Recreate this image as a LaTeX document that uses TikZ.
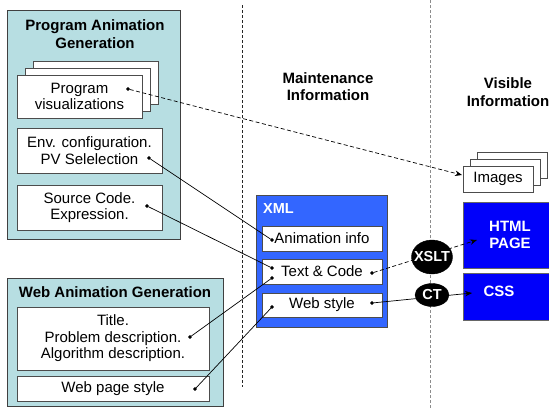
\documentclass[tikz,border=0pt]{standalone}
\usepackage{fontspec}
\setmainfont{Liberation Sans}
\usepackage{tikz}
\usetikzlibrary{shapes.geometric,arrows.meta}
\definecolor{panelteal}{RGB}{183,222,226}
\definecolor{xmlblue}{RGB}{51,102,255}
\definecolor{pageblue}{RGB}{0,0,250}

\begin{document}
\begin{tikzpicture}
[x=1pt,y=-1pt,>={Stealth[length=7pt,width=5.5pt]},
point/.style = {draw, circle, fill = black, inner sep = 1.1pt},
panel/.style = {draw=black!75, fill=panelteal, line width=0.8pt, inner sep=0pt},
card/.style = {draw=black!70, fill=white, line width=0.6pt, inner sep=0pt, align=center, font=\fontsize{15}{16.5}\selectfont},
head/.style = {align=center, inner sep=0pt, font=\bfseries\fontsize{15}{18}\selectfont},
bluebox/.style = {draw=black!60, fill=pageblue, inner sep=0pt, align=center, text=white, font=\bfseries\fontsize{15}{17}\selectfont},
oval/.style = {ellipse, draw=black, fill=black, inner sep=0pt, text=white, font=\bfseries\fontsize{14.5}{15}\selectfont},
link/.style = {line width=0.7pt},
dashlink/.style = {line width=0.7pt, dash pattern=on 4pt off 2.5pt},
]
\useasboundingbox (0,0) rectangle (549,408);

% program animation generation
\node (pag) at (93.5,124.5)[panel, minimum width=173pt, minimum height=229pt] {};
\node (pagtitle) at (95,34)[head] {Program Animation\\Generation};
\node (pv2) at (95.5,82.5)[card, minimum width=125pt, minimum height=43pt] {};
\node (pv1) at (87.5,89.5)[card, minimum width=125pt, minimum height=43pt] {};
\node (pv) at (79.5,96.5)[card, minimum width=125pt, minimum height=43pt] {Program\\visualizations};
\node (env) at (89.5,150.5)[card, minimum width=145pt, minimum height=45pt] {Env. configuration.\\PV Selelection};
\node (src) at (89.5,207.5)[card, minimum width=145pt, minimum height=45pt] {Source Code.\\Expression.};

% web animation generation
\node (wag) at (115,342)[panel, minimum width=216pt, minimum height=128pt] {};
\node (wagtitle) at (115,292)[head] {Web Animation Generation};
\node (desc) at (113,338.5)[card, minimum width=192pt, minimum height=63pt] {Title.\\Problem description.\\Algorithm description.};
\node (wps) at (113,388.5)[card, minimum width=192pt, minimum height=25pt] {Web page style};

% separators and headings
\coordinate (sepAtop) at (242,5);
\coordinate (sepAbot) at (242,387);
\coordinate (sepBtop) at (430,0);
\coordinate (sepBbot) at (430,408);
\draw [black!85, line width=0.8pt, dash pattern=on 3pt off 2pt] (sepAtop)--(sepAbot);
\draw [black!45, line width=0.8pt, dash pattern=on 3pt off 2pt] (sepBtop)--(sepBbot);
\node (maint) at (328,86.5)[head, font=\bfseries\fontsize{15}{17}\selectfont] {Maintenance\\Information};
\node (visible) at (508,92)[head] {Visible\\Information};

% xml
\node (xml) at (321.5,261)[draw=black!70, fill=xmlblue, line width=0.8pt, minimum width=131pt, minimum height=132pt] {};
\node (xmltitle) at (263,209)[anchor=west, inner sep=0pt, text=white, font=\bfseries\fontsize{14.5}{15}\selectfont] {XML};
\node (anim) at (322,238.5)[card, minimum width=120pt, minimum height=25pt] {Animation info};
\node (tc) at (322,271.5)[card, minimum width=120pt, minimum height=25pt] {Text \& Code};
\node (ws) at (322,305)[card, minimum width=120pt, minimum height=24pt] {Web style};

% visible side
\node (img2) at (512,165)[card, minimum width=70pt, minimum height=26pt] {};
\node (img1) at (505,172)[card, minimum width=70pt, minimum height=26pt] {};
\node (img) at (498,179)[card, minimum width=70pt, minimum height=26pt] {Images};
\node (html) at (510,235)[bluebox, minimum width=94pt, minimum height=66pt] {HTML\\PAGE};
\node (css) at (510,296.5)[bluebox, minimum width=94pt, minimum height=47pt] {};
\node (csstext) at (499,291)[inner sep=0pt, text=white, font=\bfseries\fontsize{15}{17}\selectfont] {CSS};

% dots
\node (pvdot) at (128,89)[point] {};
\node (envdot) at (149,158)[point] {};
\node (srcdot) at (147,206)[point] {};
\node (descdot) at (190,337)[point] {};
\node (wpsdot) at (195,389)[point] {};
\node (animdot) at (272,240)[point] {};
\node (tcdotA) at (272,268)[point] {};
\node (tcdotB) at (272,278)[point] {};
\node (wsdot) at (272,307)[point] {};
\node (tcout) at (372,273)[point] {};
\node (wsout) at (372,303)[point] {};
\coordinate (imgin) at (462,175);
\coordinate (htmlin) at (477,240);
\coordinate (cssin) at (472,293);

\draw [link](envdot)--(animdot);
\draw [link](srcdot)--(tcdotA);
\draw [link](descdot)--(tcdotB);
\draw [link](wpsdot)--(wsdot);
\draw [dashlink,->](pvdot)--(imgin);
\draw [dashlink,->](tcout)--(htmlin);
\draw [link,->](wsout)--(cssin);

% transforms
\node (xslt) at (432,257)[oval, minimum width=41pt, minimum height=34pt] {\makebox[0pt]{XSLT}};
\node (ct) at (432,295)[oval, minimum width=34pt, minimum height=23pt] {\makebox[0pt]{CT}};

\end{tikzpicture}
\end{document}
